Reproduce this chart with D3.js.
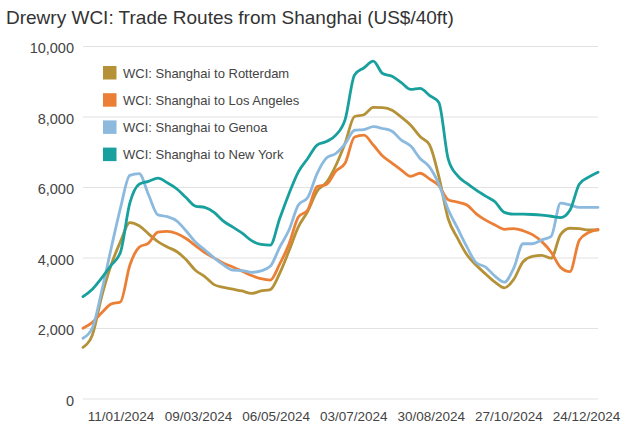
<!DOCTYPE html>
<html>
<head>
<meta charset="utf-8">
<script src="https://cdn.jsdelivr.net/npm/d3@7"></script>
<style>
  html, body { margin: 0; padding: 0; background: #fff; }
  svg { display: block; font-family: "Liberation Sans", Arial, sans-serif; }
  .grid line { stroke: #e2e2e2; stroke-width: 1.2; }
  .axis text { fill: #444; }
</style>
</head>
<body>
<div id="chart"></div>
<script>
// Weekly WCI assessments (Thursdays)
const weeks = [
  "2023-12-14", "2023-12-21", "2023-12-28", "2024-01-04", "2024-01-11", "2024-01-18", "2024-01-25",
  "2024-02-01", "2024-02-08", "2024-02-15", "2024-02-22", "2024-02-29", "2024-03-07", "2024-03-14",
  "2024-03-21", "2024-03-28", "2024-04-04", "2024-04-11", "2024-04-18", "2024-04-25", "2024-05-02",
  "2024-05-09", "2024-05-16", "2024-05-23", "2024-05-30", "2024-06-06", "2024-06-13", "2024-06-20",
  "2024-06-27", "2024-07-04", "2024-07-11", "2024-07-18", "2024-07-25", "2024-08-01", "2024-08-08",
  "2024-08-15", "2024-08-22", "2024-08-29", "2024-09-05", "2024-09-12", "2024-09-19", "2024-09-26",
  "2024-10-03", "2024-10-10", "2024-10-17", "2024-10-24", "2024-10-31", "2024-11-07", "2024-11-14",
  "2024-11-21", "2024-11-28", "2024-12-05", "2024-12-12", "2024-12-19", "2024-12-26", "2025-01-02"
];

const rotterdam = [
  1450, 1800, 2900, 3785, 4450, 4990, 4900, 4670, 4450, 4300, 4170, 3940, 3640, 3460,
  3230, 3150, 3100, 3050, 2980, 3050, 3090, 3550, 4190, 4870, 5310, 5880, 6130, 6610,
  7250, 8000, 8050, 8260, 8250, 8180, 7980, 7750, 7430, 7200, 6300, 5100, 4550, 4080,
  3780, 3530, 3300, 3140, 3380, 3880, 4030, 4060, 3980, 4650, 4830, 4820, 4780, 4780
];
const losAngeles = [
  1990, 2160, 2430, 2680, 2740, 3780, 4290, 4410, 4720, 4740, 4680, 4540, 4340, 4140,
  3990, 3840, 3730, 3610, 3490, 3400, 3360, 3810, 4380, 5150, 5350, 6010, 6070, 6450,
  6680, 7420, 7470, 7190, 6880, 6680, 6480, 6300, 6390, 6230, 6040, 5640, 5570, 5490,
  5240, 5060, 4920, 4800, 4820, 4760, 4650, 4450, 4150, 3720, 3600, 4490, 4710, 4800
];
const genoa = [
  1710, 2000, 3050, 4250, 5400, 6330, 6380, 5780, 5210, 5160, 5040, 4760, 4440, 4220,
  3990, 3790, 3640, 3630, 3580, 3620, 3750, 4290, 4780, 5490, 5700, 6380, 6820, 6950,
  7230, 7610, 7630, 7710, 7660, 7580, 7330, 7160, 6810, 6570, 6080, 5360, 4830, 4300,
  3850, 3730, 3470, 3300, 3700, 4390, 4390, 4500, 4600, 5540, 5490, 5420, 5420, 5420
];
const newYork = [
  2890, 3100, 3420, 3780, 4150, 5540, 6080, 6160, 6250, 6120, 5950, 5700, 5460, 5420,
  5280, 5030, 4860, 4690, 4480, 4370, 4350, 5100, 5810, 6430, 6810, 7190, 7290, 7470,
  7920, 9180, 9380, 9570, 9220, 9140, 8960, 8770, 8800, 8600, 8400, 6800, 6320, 6100,
  5910, 5740, 5580, 5280, 5230, 5230, 5220, 5200, 5170, 5130, 5340, 6080, 6280, 6420
];

const seriesNames = [
  "WCI: Shanghai to Rotterdam",
  "WCI: Shanghai to Los Angeles",
  "WCI: Shanghai to Genoa",
  "WCI: Shanghai to New York"
];
const seriesColors = ["#b59238", "#ec7f36", "#8cb9de", "#17a09d"];
const seriesValues = [rotterdam, losAngeles, genoa, newYork];

const yTicks = [0, 2000, 4000, 6000, 8000, 10000];
const xTickDates = ["2024-01-11", "2024-03-09", "2024-05-06", "2024-07-03", "2024-08-30", "2024-10-27", "2024-12-24"];

const title = "Drewry WCI: Trade Routes from Shanghai (US$/40ft)";

const width = 626;
const height = 429;
const margin = { top: 46, right: 28, bottom: 30.5, left: 83 };

const parseDate = d3.timeParse("%Y-%m-%d");
const dates = weeks.map(parseDate);

const svg = d3.select("#chart")
  .append("svg")
  .attr("width", width)
  .attr("height", height)
  .attr("viewBox", `0 0 ${width} ${height}`);

// Scales
const x = d3.scaleTime()
  .domain(d3.extent(dates))
  .range([margin.left, width - margin.right]);

const y = d3.scaleLinear()
  .domain([0, 10000])
  .range([height - margin.bottom, margin.top]);

// Title
svg.append("text")
  .attr("x", 6)
  .attr("y", 24)
  .attr("font-size", 19)
  .attr("fill", "#333")
  .text(title);

// Y axis + gridlines
const yAxis = svg.append("g")
  .attr("class", "axis grid")
  .attr("transform", `translate(${margin.left},0)`)
  .call(d3.axisLeft(y)
    .tickValues(yTicks)
    .tickSize(-(width - margin.left - margin.right))
    .tickPadding(9)
    .tickFormat(d3.format(",")));
yAxis.select(".domain").remove();
yAxis.selectAll("text")
  .attr("font-size", 14.5)
  .attr("dy", "0.45em");

// X axis (labels only)
const xAxis = svg.append("g")
  .attr("class", "axis")
  .attr("transform", `translate(0,${height - margin.bottom})`)
  .call(d3.axisBottom(x)
    .tickValues(xTickDates.map(parseDate))
    .tickSize(0)
    .tickFormat(d3.timeFormat("%d/%m/%Y")));
xAxis.select(".domain").remove();
xAxis.selectAll("text")
  .attr("font-size", 13.5)
  .attr("y", 22.5)
  .attr("dy", 0);

// Lines
const line = d3.line()
  .x((d, i) => x(dates[i]))
  .y(d => y(d))
  .curve(d3.curveMonotoneX);

const lines = svg.append("g").attr("class", "lines");
seriesValues.forEach((vals, k) => {
  lines.append("path")
    .datum(vals)
    .attr("d", line)
    .attr("fill", "none")
    .attr("stroke", seriesColors[k])
    .attr("stroke-width", 2.8)
    .attr("stroke-linejoin", "round")
    .attr("stroke-linecap", "round");
});

// Legend
const legend = svg.append("g")
  .attr("class", "legend")
  .attr("transform", "translate(103,66)");

seriesNames.forEach((name, k) => {
  const row = legend.append("g").attr("transform", `translate(0,${k * 27.2})`);
  row.append("rect")
    .attr("width", 13.5)
    .attr("height", 13.5)
    .attr("fill", seriesColors[k]);
  row.append("text")
    .attr("x", 20)
    .attr("y", 11.7)
    .attr("font-size", 13)
    .attr("fill", "#444")
    .text(name);
});
</script>
</body>
</html>
